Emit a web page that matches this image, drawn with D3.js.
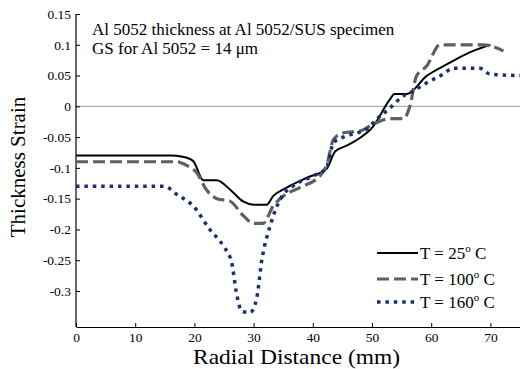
<!DOCTYPE html>
<html><head><meta charset="utf-8">
<script src="https://cdn.jsdelivr.net/npm/d3@7"></script>
<style>
html,body{margin:0;padding:0;background:#fff;}
</style></head>
<body><svg id="c" width="520" height="369"></svg>
<script>
const xTicks = [0,10,20,30,40,50,60,70];
const yTicks = [0.15,0.1,0.05,0,-0.05,-0.1,-0.15,-0.2,-0.25,-0.3];
const yTickLabels = ["0.15","0.1","0.05","0","-0.05","-0.1","-0.15","-0.2","-0.25","-0.3"];

const x25 = [0,16,18,19.8,21.5,23.8,26,28.3,30,32.2,33.3,35.6,39,42.3,43.8,45.7,48,50,53,53.8,55.9,59.2,62,63.7,67.1,70];
const y25 = [-0.08,-0.08,-0.082,-0.089,-0.12,-0.12,-0.135,-0.155,-0.16,-0.16,-0.146,-0.132,-0.116,-0.102,-0.073,-0.064,-0.051,-0.035,0.011,0.02,0.02,0.049,0.065,0.074,0.09,0.1];

const x100 = [0,17,18.7,20.4,22,23.8,26,28.3,30,31.6,33.3,35,37.8,41.2,42.3,43.5,45.2,48,50.2,53,55.3,56.4,57.5,59.2,61.5,68.8,72.2];
const y100 = [-0.09,-0.09,-0.096,-0.108,-0.135,-0.15,-0.154,-0.178,-0.19,-0.19,-0.162,-0.146,-0.132,-0.113,-0.097,-0.054,-0.043,-0.04,-0.029,-0.02,-0.02,0,0.049,0.065,0.1,0.1,0.09];

const x160 = [0,15,17,19.8,22.6,24.9,26.3,27.1,28,29.4,30.5,31.4,32.8,34.5,36.7,40.1,42.3,43.5,45.7,49.1,50.8,53,55.3,57,59.2,62,63.7,68.2,70,75];
const y160 = [-0.13,-0.13,-0.143,-0.162,-0.2,-0.227,-0.254,-0.303,-0.333,-0.335,-0.313,-0.249,-0.194,-0.151,-0.129,-0.113,-0.1,-0.059,-0.048,-0.037,-0.021,-0.003,0.017,0.025,0.038,0.052,0.062,0.062,0.052,0.05];

const seriesNames = ["T = 25", "T = 100", "T = 160"];
const titleLines = ["Al 5052 thickness at Al 5052/SUS specimen", "GS for Al 5052 = 14 \u03bcm"];

const FONT = '"Liberation Serif","Times New Roman",serif';
const svg = d3.select("#c");
const L = 76, R = 520, T = 14, B = 327;
const x = d3.scaleLinear().domain([0,75]).range([L,R]);
const y = d3.scaleLinear().domain([-0.3585,0.15]).range([B,T]);

// zero line
svg.append("line").attr("x1",L).attr("x2",R).attr("y1",y(0)).attr("y2",y(0))
  .attr("stroke","#9a9a9a").attr("stroke-width",1);

// axes
const xa = svg.append("g").attr("transform",`translate(0,${B})`)
  .call(d3.axisBottom(x).tickValues(xTicks).tickSizeInner(-4).tickSizeOuter(0).tickPadding(5).tickFormat(d3.format("d")));
const ya = svg.append("g").attr("transform",`translate(${L},0)`)
  .call(d3.axisLeft(y).tickValues(yTicks).tickSizeInner(-4).tickSizeOuter(0).tickPadding(5).tickFormat((d,i)=>yTickLabels[i]));
[xa,ya].forEach(g=>{
  g.style("font-family",FONT);
  g.select(".domain").attr("stroke","#000").attr("stroke-width",1.2);
  g.selectAll(".tick line").attr("stroke","#000");
  g.selectAll("text").style("font-family",FONT).attr("font-size",13.5).attr("fill","#000");
});
ya.select(".domain").attr("d",`M0,${T}V${B}`);

const line = d3.line().x(d=>x(d[0])).y(d=>y(d[1])).curve(d3.curveMonotoneX);
const zip = (a,b)=>a.map((v,i)=>[v,b[i]]);
const styles = [
  {stroke:"#000", w:2, dash:null},
  {stroke:"#5f5f5f", w:3.2, dash:"12,5"},
  {stroke:"#1b2e7a", w:3.5, dash:"3.5,4.9"}
];
const data = [zip(x25,y25), zip(x100,y100), zip(x160,y160)];
data.forEach((d,i)=>{
  svg.append("path").datum(d).attr("d",line).attr("fill","none")
    .attr("stroke",styles[i].stroke).attr("stroke-width",styles[i].w)
    .attr("stroke-dasharray",styles[i].dash);
});

// title
titleLines.forEach((t,i)=>{
  svg.append("text").attr("x",92).attr("y",35+i*19).style("font-family",FONT).attr("font-size",17).text(t);
});

// legend
const legY = [253,279,302];
seriesNames.forEach((n,i)=>{
  svg.append("line").attr("x1",377).attr("x2",418).attr("y1",legY[i]).attr("y2",legY[i])
    .attr("stroke",styles[i].stroke).attr("stroke-width",styles[i].w).attr("stroke-dasharray",styles[i].dash);
  const t = svg.append("text").attr("x",420).attr("y",legY[i]+6).style("font-family",FONT).attr("font-size",17);
  t.append("tspan").text(n);
  t.append("tspan").attr("dy",-7).attr("font-size",11).text("o");
  t.append("tspan").attr("dy",7).text(" C");
});

// axis labels
svg.append("text").attr("x",193).attr("y",364).style("font-family",FONT).attr("font-size",21)
  .attr("textLength",207).attr("lengthAdjust","spacingAndGlyphs").text("Radial Distance (mm)");
svg.append("text").attr("transform","translate(25,167) rotate(-90)").attr("text-anchor","middle").style("font-family",FONT).attr("font-size",21).text("Thickness Strain");
</script></body></html>
